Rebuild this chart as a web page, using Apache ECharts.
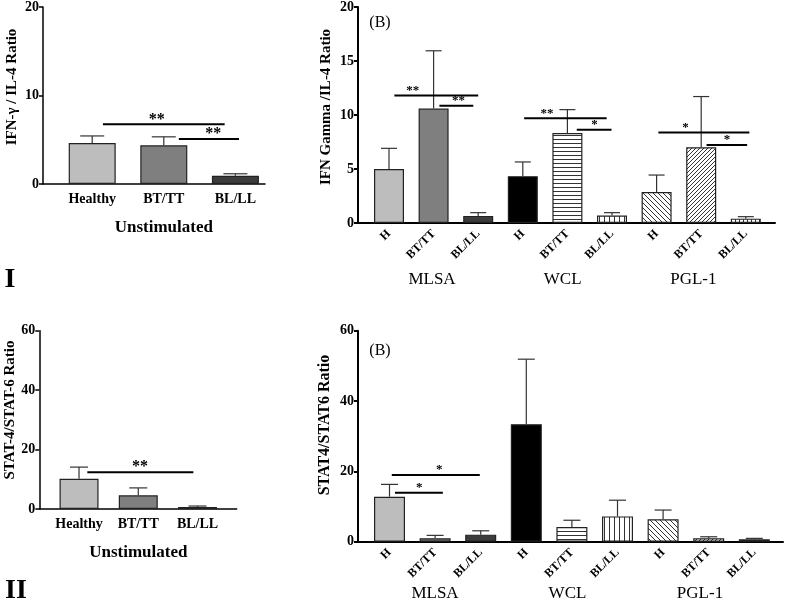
<!DOCTYPE html>
<html><head><meta charset="utf-8">
<script src="https://cdn.jsdelivr.net/npm/echarts/dist/echarts.min.js"></script>
<style>html,body{margin:0;padding:0;background:#fff}#c{width:787px;height:602px}</style>
</head><body><div id="c"></div>
<script>
// ---------- DATA ----------
// Panel I (A): IFN-γ / IL-4 ratio, unstimulated
const catsA = ['Healthy', 'BT/TT', 'BL/LL'];
const ifnA = [4.6, 4.35, 0.93];
const ifnAErr = [5.4, 5.3, 1.15];
// Panel I (B): IFN Gamma / IL-4 ratio, stimulated
const catsB = ['H', 'BT/TT', 'BL/LL', 'H', 'BT/TT', 'BL/LL', 'H', 'BT/TT', 'BL/LL'];
const groupsB = ['MLSA', 'WCL', 'PGL-1'];
const ifnB = [4.95, 10.5, 0.65, 4.3, 8.25, 0.68, 2.85, 6.95, 0.4];
const ifnBErr = [6.85, 15.8, 0.95, 5.6, 10.4, 0.95, 4.4, 11.6, 0.58];
// Panel II (A): STAT-4 / STAT-6 ratio, unstimulated
const statA = [10.2, 4.6, 0.67];
const statAErr = [14.1, 7.1, 1.0];
// Panel II (B): STAT4 / STAT6 ratio, stimulated
const statB = [12.8, 0.95, 2.0, 33.4, 4.2, 7.2, 6.4, 0.95, 0.7];
const statBErr = [16.3, 1.8, 3.1, 51.9, 6.1, 11.8, 9.0, 1.4, 0.95];
// Significance brackets: [from category, to category, value, stars at category, stars]
const sigIA = [[0.15, 1.85, 6.7, 0.9, '**'], [1.21, 2.05, 5.05, 1.69, '**']];
const sigIB = [[0.12, 2.0, 11.7, 0.53, '**'], [1.13, 1.89, 10.75, 1.56, '**'],
               [3.03, 4.88, 9.6, 3.54, '**'], [4.21, 4.99, 8.55, 4.61, '*'],
               [6.04, 8.08, 8.3, 6.65, '*'], [7.12, 8.03, 7.15, 7.58, '*']];
const sigIIA = [[0.14, 1.93, 12.35, 1.03, '**']];
const sigIIB = [[0.05, 1.98, 18.97, 1.09, '*'], [0.12, 1.17, 13.9, 0.65, '*']];

// ---------- STYLE ----------
const SERIF = '"Liberation Serif", "Times New Roman", serif';
function hatch(kind, size) {
  const c = document.createElement('canvas'); c.width = size; c.height = size;
  const g = c.getContext('2d'); g.fillStyle = '#fff'; g.fillRect(0, 0, size, size);
  g.strokeStyle = '#333'; g.lineWidth = 1; g.beginPath();
  if (kind === 'h') { g.moveTo(0, size - 0.5); g.lineTo(size, size - 0.5); }
  else if (kind === 'v') { g.moveTo(size - 0.5, 0); g.lineTo(size - 0.5, size); }
  else if (kind === 'fwd') { g.moveTo(0, size); g.lineTo(size, 0); g.moveTo(-1, 1); g.lineTo(1, -1); g.moveTo(size - 1, size + 1); g.lineTo(size + 1, size - 1); }
  else { g.moveTo(0, 0); g.lineTo(size, size); g.moveTo(size - 1, -1); g.lineTo(size + 1, 1); g.moveTo(-1, size - 1); g.lineTo(1, size + 1); }
  g.stroke();
  return { image: c, repeat: 'repeat' };
}
const fillsA = ['#bdbdbd', '#7f7f7f', '#3c3c3c'];
const fillsB = ['#bdbdbd', '#7f7f7f', '#3c3c3c', '#000000', hatch('h', 4), hatch('v', 5), hatch('back', 5), hatch('fwd', 4), hatch('v', 4)];

function barSeries(gi, vals, fills, w) {
  return { type: 'bar', xAxisIndex: gi, yAxisIndex: gi, barWidth: w, z: 2,
    data: vals.map((v, i) => ({ value: v, itemStyle: { color: fills[i], borderColor: '#222', borderWidth: 1.2 } })) };
}
function errSeries(gi, vals, tops, capW) {
  return { type: 'custom', xAxisIndex: gi, yAxisIndex: gi, z: 3, clip: false,
    data: vals.map((v, i) => [i, v, tops[i]]),
    renderItem: function (params, api) {
      const p0 = api.coord([api.value(0), api.value(1)]);
      const p1 = api.coord([api.value(0), api.value(2)]);
      const st = { stroke: '#333', lineWidth: 1.2 };
      return { type: 'group', children: [
        { type: 'line', shape: { x1: p0[0], y1: p0[1], x2: p1[0], y2: p1[1] }, style: st },
        { type: 'line', shape: { x1: p1[0] - capW / 2, y1: p1[1], x2: p1[0] + capW / 2, y2: p1[1] }, style: st }
      ] };
    } };
}
function sigSeries(gi, sig, fs) {
  return { type: 'custom', xAxisIndex: gi, yAxisIndex: gi, z: 4, clip: false,
    data: sig.map(s => [0, s[2]]),
    renderItem: function (params, api) {
      const s = sig[params.dataIndex];
      const band = api.size([1, 0])[0];
      const p = api.coord([0, s[2]]);
      const xa = p[0] + s[0] * band, xb = p[0] + s[1] * band, xs = p[0] + s[3] * band;
      return { type: 'group', children: [
        { type: 'line', shape: { x1: xa, y1: p[1], x2: xb, y2: p[1] }, style: { stroke: '#000', lineWidth: 2 } },
        { type: 'text', x: xs, y: p[1] - 5, style: { text: s[4], align: 'center', verticalAlign: 'middle', font: 'bold ' + fs + 'px ' + SERIF, fill: '#000' } }
      ] };
    } };
}

const grids = [
  { left: 43, width: 222, top: 6, height: 178 },        // 0 I-A outer
  { left: 56.4, width: 214.8, top: 6, height: 178 },    // 1 I-A bars
  { left: 358, width: 417, top: 5, height: 218 },       // 2 I-B outer
  { left: 366.7, width: 401.4, top: 5, height: 218 },   // 3 I-B bars
  { left: 366.7, width: 392, top: 5, height: 218 },     // 4 I-B groups
  { left: 39.3, width: 197.4, top: 330.7, height: 178.3 }, // 5 II-A outer
  { left: 49.4, width: 177.75, top: 330.7, height: 178.3 }, // 6 II-A bars
  { left: 358, width: 425, top: 330.7, height: 211 },   // 7 II-B outer
  { left: 366.7, width: 410.4, top: 330.7, height: 211 }, // 8 II-B bars
  { left: 368.75, width: 397.5, top: 330.7, height: 211 } // 9 II-B groups
];

function outerX(gi, lw) {
  return { type: 'value', gridIndex: gi, min: 0, max: 1, axisLine: { show: true, onZero: false, lineStyle: { color: '#000', width: lw } },
    axisTick: { show: false }, axisLabel: { show: false }, splitLine: { show: false } };
}
function outerY(gi, max, interval, fs, lw) {
  return { type: 'value', gridIndex: gi, min: 0, max: max, interval: interval,
    axisLine: { show: true, lineStyle: { color: '#000', width: lw } },
    axisTick: { show: true, length: 4, lineStyle: { color: '#000', width: lw } },
    axisLabel: { color: '#000', fontFamily: SERIF, fontWeight: 'bold', fontSize: fs, margin: 4 },
    splitLine: { show: false } };
}
function innerX(gi, cats, label, name, nameGap) {
  return { type: 'category', gridIndex: gi, data: cats, axisLine: { show: false }, axisTick: { show: false },
    axisLabel: label, name: name || '', nameLocation: 'middle', nameGap: nameGap || 0,
    nameTextStyle: { fontFamily: SERIF, fontWeight: 'bold', fontSize: 17, color: '#000' } };
}
function hiddenY(gi, max) { return { type: 'value', gridIndex: gi, min: 0, max: max, show: false }; }

const labA = { color: '#000', fontFamily: SERIF, fontWeight: 'bold', fontSize: 14, margin: 8, interval: 0 };
const labB = { color: '#000', fontFamily: SERIF, fontWeight: 'bold', fontSize: 12, margin: 9, rotate: 45, interval: 0 };
function groupX(gi, margin) {
  return { type: 'category', gridIndex: gi, data: groupsB, axisLine: { show: false }, axisTick: { show: false },
    axisLabel: { color: '#000', fontFamily: SERIF, fontSize: 17, margin: margin, interval: 0 } };
}

const xAxis = [
  outerX(0, 1.5), innerX(1, catsA, labA, 'Unstimulated', 35),
  outerX(2, 2), innerX(3, catsB, labB), groupX(4, 48),
  outerX(5, 1.5), innerX(6, catsA, labA, 'Unstimulated', 35),
  outerX(7, 2), innerX(8, catsB, labB), groupX(9, 43)
];
const yAxis = [
  outerY(0, 20, 10, 14, 1.5), hiddenY(1, 20),
  outerY(2, 20, 5, 14, 2), hiddenY(3, 20), hiddenY(4, 20),
  outerY(5, 60, 20, 14, 1.5), hiddenY(6, 60),
  outerY(7, 60, 20, 14, 2), hiddenY(8, 60), hiddenY(9, 60)
];

function vText(text, x, y, fs, bold) {
  return { type: 'text', x: x, y: y, rotation: Math.PI / 2,
    style: { text: text, align: 'center', verticalAlign: 'middle', font: (bold ? 'bold ' : '') + fs + 'px ' + SERIF, fill: '#000' } };
}
function hText(text, x, y, fs, bold) {
  return { type: 'text', x: x, y: y,
    style: { text: text, align: 'center', verticalAlign: 'middle', font: (bold ? 'bold ' : '') + fs + 'px ' + SERIF, fill: '#000' } };
}

const option = {
  animation: false,
  backgroundColor: '#fff',
  grid: grids,
  xAxis: xAxis,
  yAxis: yAxis,
  graphic: [
    vText('IFN-\u03b3 / IL-4 Ratio', 12, 87, 15, true),
    vText('IFN Gamma /IL-4 Ratio', 326, 107, 15, true),
    vText('STAT-4/STAT-6 Ratio', 10, 410, 15, true),
    vText('STAT4/STAT6 Ratio', 325, 425, 16, true),
    hText('(B)', 380, 23, 16, false),
    hText('(B)', 380, 351, 16, false),
    hText('I', 10, 280, 28, true),
    hText('II', 16, 591, 28, true)
  ],
  series: [
    barSeries(1, ifnA, fillsA, 47), errSeries(1, ifnA, ifnAErr, 24), sigSeries(1, sigIA, 16),
    barSeries(3, ifnB, fillsB, 30), errSeries(3, ifnB, ifnBErr, 16), sigSeries(3, sigIB, 13),
    barSeries(6, statA, fillsA, 39), errSeries(6, statA, statAErr, 18), sigSeries(6, sigIIA, 16),
    barSeries(8, statB, fillsB, 31), errSeries(8, statB, statBErr, 17), sigSeries(8, sigIIB, 13)
  ]
};
const chart = echarts.init(document.getElementById('c'), null, { renderer: 'canvas' });
chart.setOption(option);
</script></body></html>
